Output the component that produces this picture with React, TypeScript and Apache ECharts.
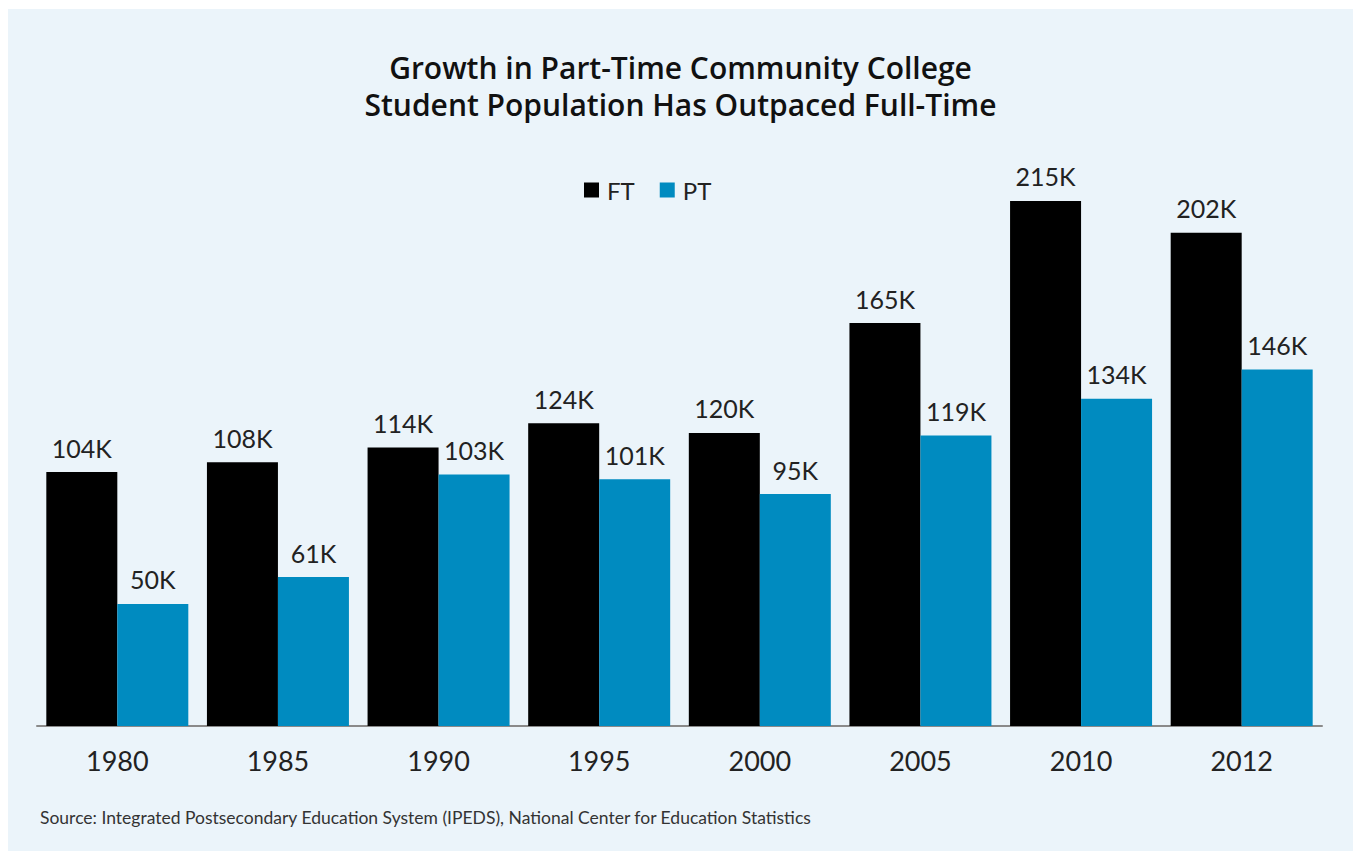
import React, { useEffect, useRef } from "react";
import * as echarts from "echarts";

const years = ["1980", "1985", "1990", "1995", "2000", "2005", "2010", "2012"];
const ftValues = [104, 108, 114, 124, 120, 165, 215, 202];
const ptValues = [50, 61, 103, 101, 95, 119, 134, 146];
const seriesNames = ["FT", "PT"];
const titleLines = ["Growth in Part-Time Community College", "Student Population Has Outpaced Full-Time"];
const sourceText = "Source: Integrated Postsecondary Education System (IPEDS), National Center for Education Statistics";

const FONT = "Lato, 'Noto Sans', sans-serif";
const TITLE_FONT = "'Open Sans', Lato, sans-serif";

export default function App() {
  const ref = useRef<HTMLDivElement>(null);
  useEffect(() => {
    document.body.style.margin = "0";
    document.body.style.overflow = "hidden";
    const chart = echarts.init(ref.current!, undefined, { renderer: "svg" });
    const label = {
      show: true,
      position: "top" as const,
      distance: 12,
      formatter: (p: any) => p.value + "K",
      fontSize: 25,
      color: "#222",
      fontFamily: FONT,
    };
    chart.setOption({
      animation: false,
      backgroundColor: "#EBF4FA",
      title: titleLines.map((t, i) => ({
        text: t,
        left: "center",
        top: 42 + i * 37,
        padding: 0,
        textStyle: { fontSize: 30, fontWeight: 600, color: "#111", lineHeight: 32, fontFamily: TITLE_FONT },
      })),
      legend: {
        data: seriesNames,
        top: 164,
        left: 571,
        itemWidth: 15,
        itemHeight: 15,
        itemGap: 25,
        icon: "rect",
        textStyle: { fontSize: 24, color: "#222", fontFamily: FONT, padding: [0, 0, 0, 3] },
      },
      grid: { left: 29, right: 31, top: 106.5, bottom: 125 },
      xAxis: {
        type: "category",
        data: years,
        axisLine: { lineStyle: { color: "#8a8a8a", width: 2 } },
        axisTick: { show: false },
        axisLabel: { fontSize: 27, color: "#222", margin: 21, fontFamily: FONT },
      },
      yAxis: {
        type: "value",
        min: 0,
        max: 250,
        show: false,
        splitLine: { show: false },
      },
      graphic: [
        {
          type: "text",
          left: 32,
          top: 799,
          style: { text: sourceText, fontSize: 17.5, fill: "#333", fontFamily: FONT },
        },
      ],
      series: [
        {
          name: seriesNames[0],
          type: "bar",
          data: ftValues,
          itemStyle: { color: "#000000" },
          barGap: "0%",
          barCategoryGap: "11.6%",
          label,
        },
        {
          name: seriesNames[1],
          type: "bar",
          data: ptValues,
          itemStyle: { color: "#008BC0" },
          barGap: "0%",
          barCategoryGap: "11.6%",
          label,
        },
      ],
    });
    return () => chart.dispose();
  }, []);
  return (
    <div style={{ position: "relative", width: 1353, height: 851, background: "#fff" }}>
      <div ref={ref} style={{ position: "absolute", left: 8, top: 9, width: 1345, height: 842 }} />
    </div>
  );
}
